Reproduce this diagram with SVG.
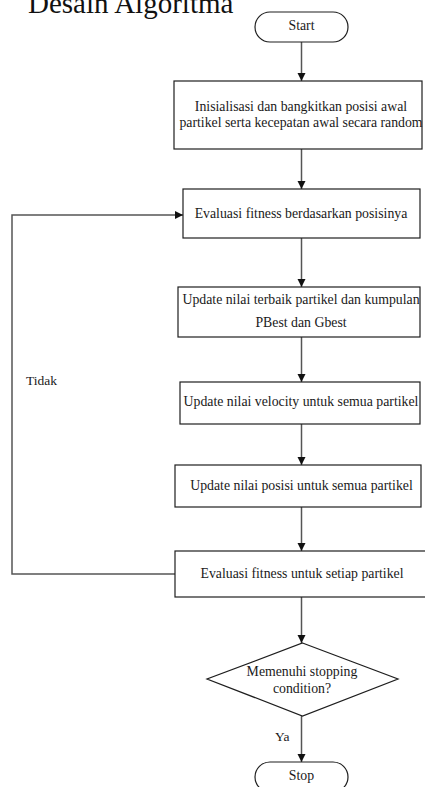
<svg xmlns="http://www.w3.org/2000/svg" width="425" height="787" viewBox="0 0 425 787">
<style>
  .box { fill: #ffffff; stroke: #1e1e1e; stroke-width: 1.2; }
  .t { font-family: "Liberation Serif", "Times New Roman", serif; font-size: 13.8px; fill: #1a1a1a; text-anchor: middle; }
  .lbl { font-family: "Liberation Serif", "Times New Roman", serif; font-size: 13.5px; fill: #1a1a1a; }
  .title { font-family: "Liberation Serif", "Times New Roman", serif; font-size: 29px; fill: #111111; }
  .conn { fill: none; stroke: #555555; stroke-width: 1.5; }
</style>
<defs>
  <marker id="arr" markerUnits="userSpaceOnUse" markerWidth="9" markerHeight="9" refX="8" refY="4" orient="auto">
    <path d="M0,0 L8,4 L0,8 z" fill="#111111"/>
  </marker>
</defs>
<rect width="425" height="787" fill="#ffffff"/>
<text class="title" x="28" y="13">Desain Algoritma</text>

<g id="connectors">
  <line class="conn" x1="301.5" y1="42" x2="301.5" y2="81" marker-end="url(#arr)"/>
  <line class="conn" x1="301.5" y1="149" x2="301.5" y2="189" marker-end="url(#arr)"/>
  <line class="conn" x1="301.5" y1="238" x2="301.5" y2="287" marker-end="url(#arr)"/>
  <line class="conn" x1="301.5" y1="337" x2="301.5" y2="382" marker-end="url(#arr)"/>
  <line class="conn" x1="301.5" y1="424" x2="301.5" y2="465" marker-end="url(#arr)"/>
  <line class="conn" x1="301.5" y1="507" x2="301.5" y2="551" marker-end="url(#arr)"/>
  <line class="conn" x1="301.5" y1="597" x2="301.5" y2="643" marker-end="url(#arr)"/>
  <line class="conn" x1="301.5" y1="716" x2="301.5" y2="762" marker-end="url(#arr)"/>
  <path class="conn" d="M175,574 H12 V215 H183" marker-end="url(#arr)"/>
  <text class="lbl" x="26" y="385">Tidak</text>
  <text class="lbl" x="275" y="741">Ya</text>
</g>

<g id="start">
  <rect class="box" x="255" y="12" width="93" height="30" rx="15" ry="15"/>
  <text class="t" x="301.5" y="30">Start</text>
</g>
<g id="init">
  <rect class="box" x="174" y="81" width="248" height="68"/>
  <text class="t" x="301" y="111">Inisialisasi dan bangkitkan posisi awal</text>
  <text class="t" x="301" y="127">partikel serta kecepatan awal secara random</text>
</g>
<g id="eval1">
  <rect class="box" x="183" y="189" width="237" height="49"/>
  <text class="t" x="301" y="218">Evaluasi fitness berdasarkan posisinya</text>
</g>
<g id="best">
  <rect class="box" x="178" y="287" width="242" height="50"/>
  <text class="t" x="301" y="304">Update nilai terbaik partikel dan kumpulan</text>
  <text class="t" x="301" y="327">PBest dan Gbest</text>
</g>
<g id="velocity">
  <rect class="box" x="180" y="382" width="240" height="42"/>
  <text class="t" x="301" y="406">Update nilai velocity untuk semua partikel</text>
</g>
<g id="posisi">
  <rect class="box" x="175" y="465" width="246" height="42"/>
  <text class="t" x="301.5" y="490">Update nilai posisi untuk semua partikel</text>
</g>
<g id="eval2">
  <rect class="box" x="175" y="551" width="253" height="46"/>
  <text class="t" x="302" y="578">Evaluasi fitness untuk setiap partikel</text>
</g>
<g id="decision">
  <polygon class="box" points="302.5,643 398,679 302.5,716 207,679"/>
  <text class="t" x="302" y="676">Memenuhi stopping</text>
  <text class="t" x="302" y="693">condition?</text>
</g>
<g id="stop">
  <rect class="box" x="255" y="762" width="93" height="30" rx="15" ry="15"/>
  <text class="t" x="301.5" y="780">Stop</text>
</g>
</svg>
